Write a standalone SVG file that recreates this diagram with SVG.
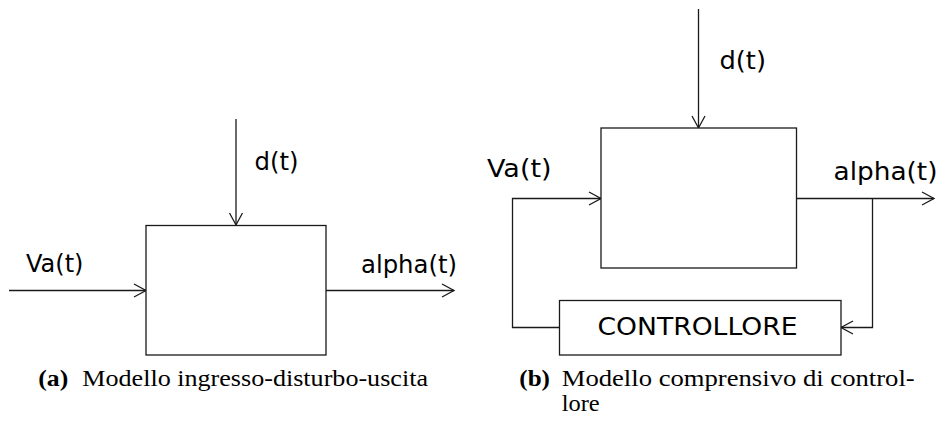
<svg xmlns="http://www.w3.org/2000/svg" width="941" height="421" viewBox="0 0 941 421">
<style>
.ln{fill:none;stroke:#1a1a1a;stroke-width:1.3}
.bx{fill:#fff;stroke:#1a1a1a;stroke-width:1.3}
.lbl{font-family:"DejaVu Sans",sans-serif;font-size:24px;fill:#000}
.cap{font-family:"Liberation Serif","Times New Roman",serif;font-size:23px;fill:#000}
.capb{font-family:"Liberation Serif","Times New Roman",serif;font-size:23px;font-weight:bold;fill:#000}
</style>
<defs>
<marker id="arr" viewBox="-14 -8 16 16" refX="0" refY="0" markerWidth="16" markerHeight="16" markerUnits="userSpaceOnUse" orient="auto">
<path d="M -12 -6.5 L 0 0 L -12 6.5" fill="none" stroke="#1a1a1a" stroke-width="1.3"/>
</marker>
</defs>
<rect width="941" height="421" fill="#fff"/>
<g id="connectors">
<line class="ln" x1="236" y1="119" x2="236" y2="225" marker-end="url(#arr)"/>
<line class="ln" x1="9" y1="290.5" x2="146" y2="290.5" marker-end="url(#arr)"/>
<line class="ln" x1="326" y1="290.5" x2="454" y2="290.5" marker-end="url(#arr)"/>
<line class="ln" x1="698.5" y1="9" x2="698.5" y2="128" marker-end="url(#arr)"/>
<polyline class="ln" points="559,327.5 512.5,327.5 512.5,198.5 601,198.5" marker-end="url(#arr)"/>
<line class="ln" x1="796" y1="198.5" x2="934" y2="198.5" marker-end="url(#arr)"/>
<polyline class="ln" points="872.5,198.5 872.5,327.5 841,327.5" marker-end="url(#arr)"/>
</g>
<g id="plant-a">
<rect class="bx" x="146" y="225.5" width="180" height="129.5"/>
</g>
<g id="labels-a">
<text class="lbl" x="26" y="271.5" textLength="57.5" lengthAdjust="spacingAndGlyphs">Va(t)</text>
<text class="lbl" x="254.5" y="170" textLength="44" lengthAdjust="spacingAndGlyphs">d(t)</text>
<text class="lbl" x="361" y="272.5" textLength="96" lengthAdjust="spacingAndGlyphs">alpha(t)</text>
</g>
<g id="plant-b">
<rect class="bx" x="601" y="128" width="195.5" height="140"/>
</g>
<g id="controllore">
<rect class="bx" x="559.5" y="300.5" width="281.5" height="54.5"/>
<text class="lbl" x="697.5" y="335" font-size="25" text-anchor="middle" textLength="200" lengthAdjust="spacingAndGlyphs">CONTROLLORE</text>
</g>
<g id="labels-b">
<text class="lbl" x="487" y="176.5" textLength="64.5" lengthAdjust="spacingAndGlyphs">Va(t)</text>
<text class="lbl" x="719.5" y="68.5" textLength="46.5" lengthAdjust="spacingAndGlyphs">d(t)</text>
<text class="lbl" x="833.5" y="180" textLength="104" lengthAdjust="spacingAndGlyphs">alpha(t)</text>
</g>
<g id="captions">
<text class="capb" x="38.3" y="386" textLength="30" lengthAdjust="spacingAndGlyphs">(a)</text>
<text class="cap" x="82.3" y="386" textLength="345.7" lengthAdjust="spacingAndGlyphs">Modello ingresso-disturbo-uscita</text>
<text class="capb" x="519.3" y="386" textLength="30.7" lengthAdjust="spacingAndGlyphs">(b)</text>
<text class="cap" x="561.7" y="386" textLength="353" lengthAdjust="spacingAndGlyphs">Modello comprensivo di control-</text>
<text class="cap" x="561.7" y="410.5" textLength="38" lengthAdjust="spacingAndGlyphs">lore</text>
</g>
</svg>
